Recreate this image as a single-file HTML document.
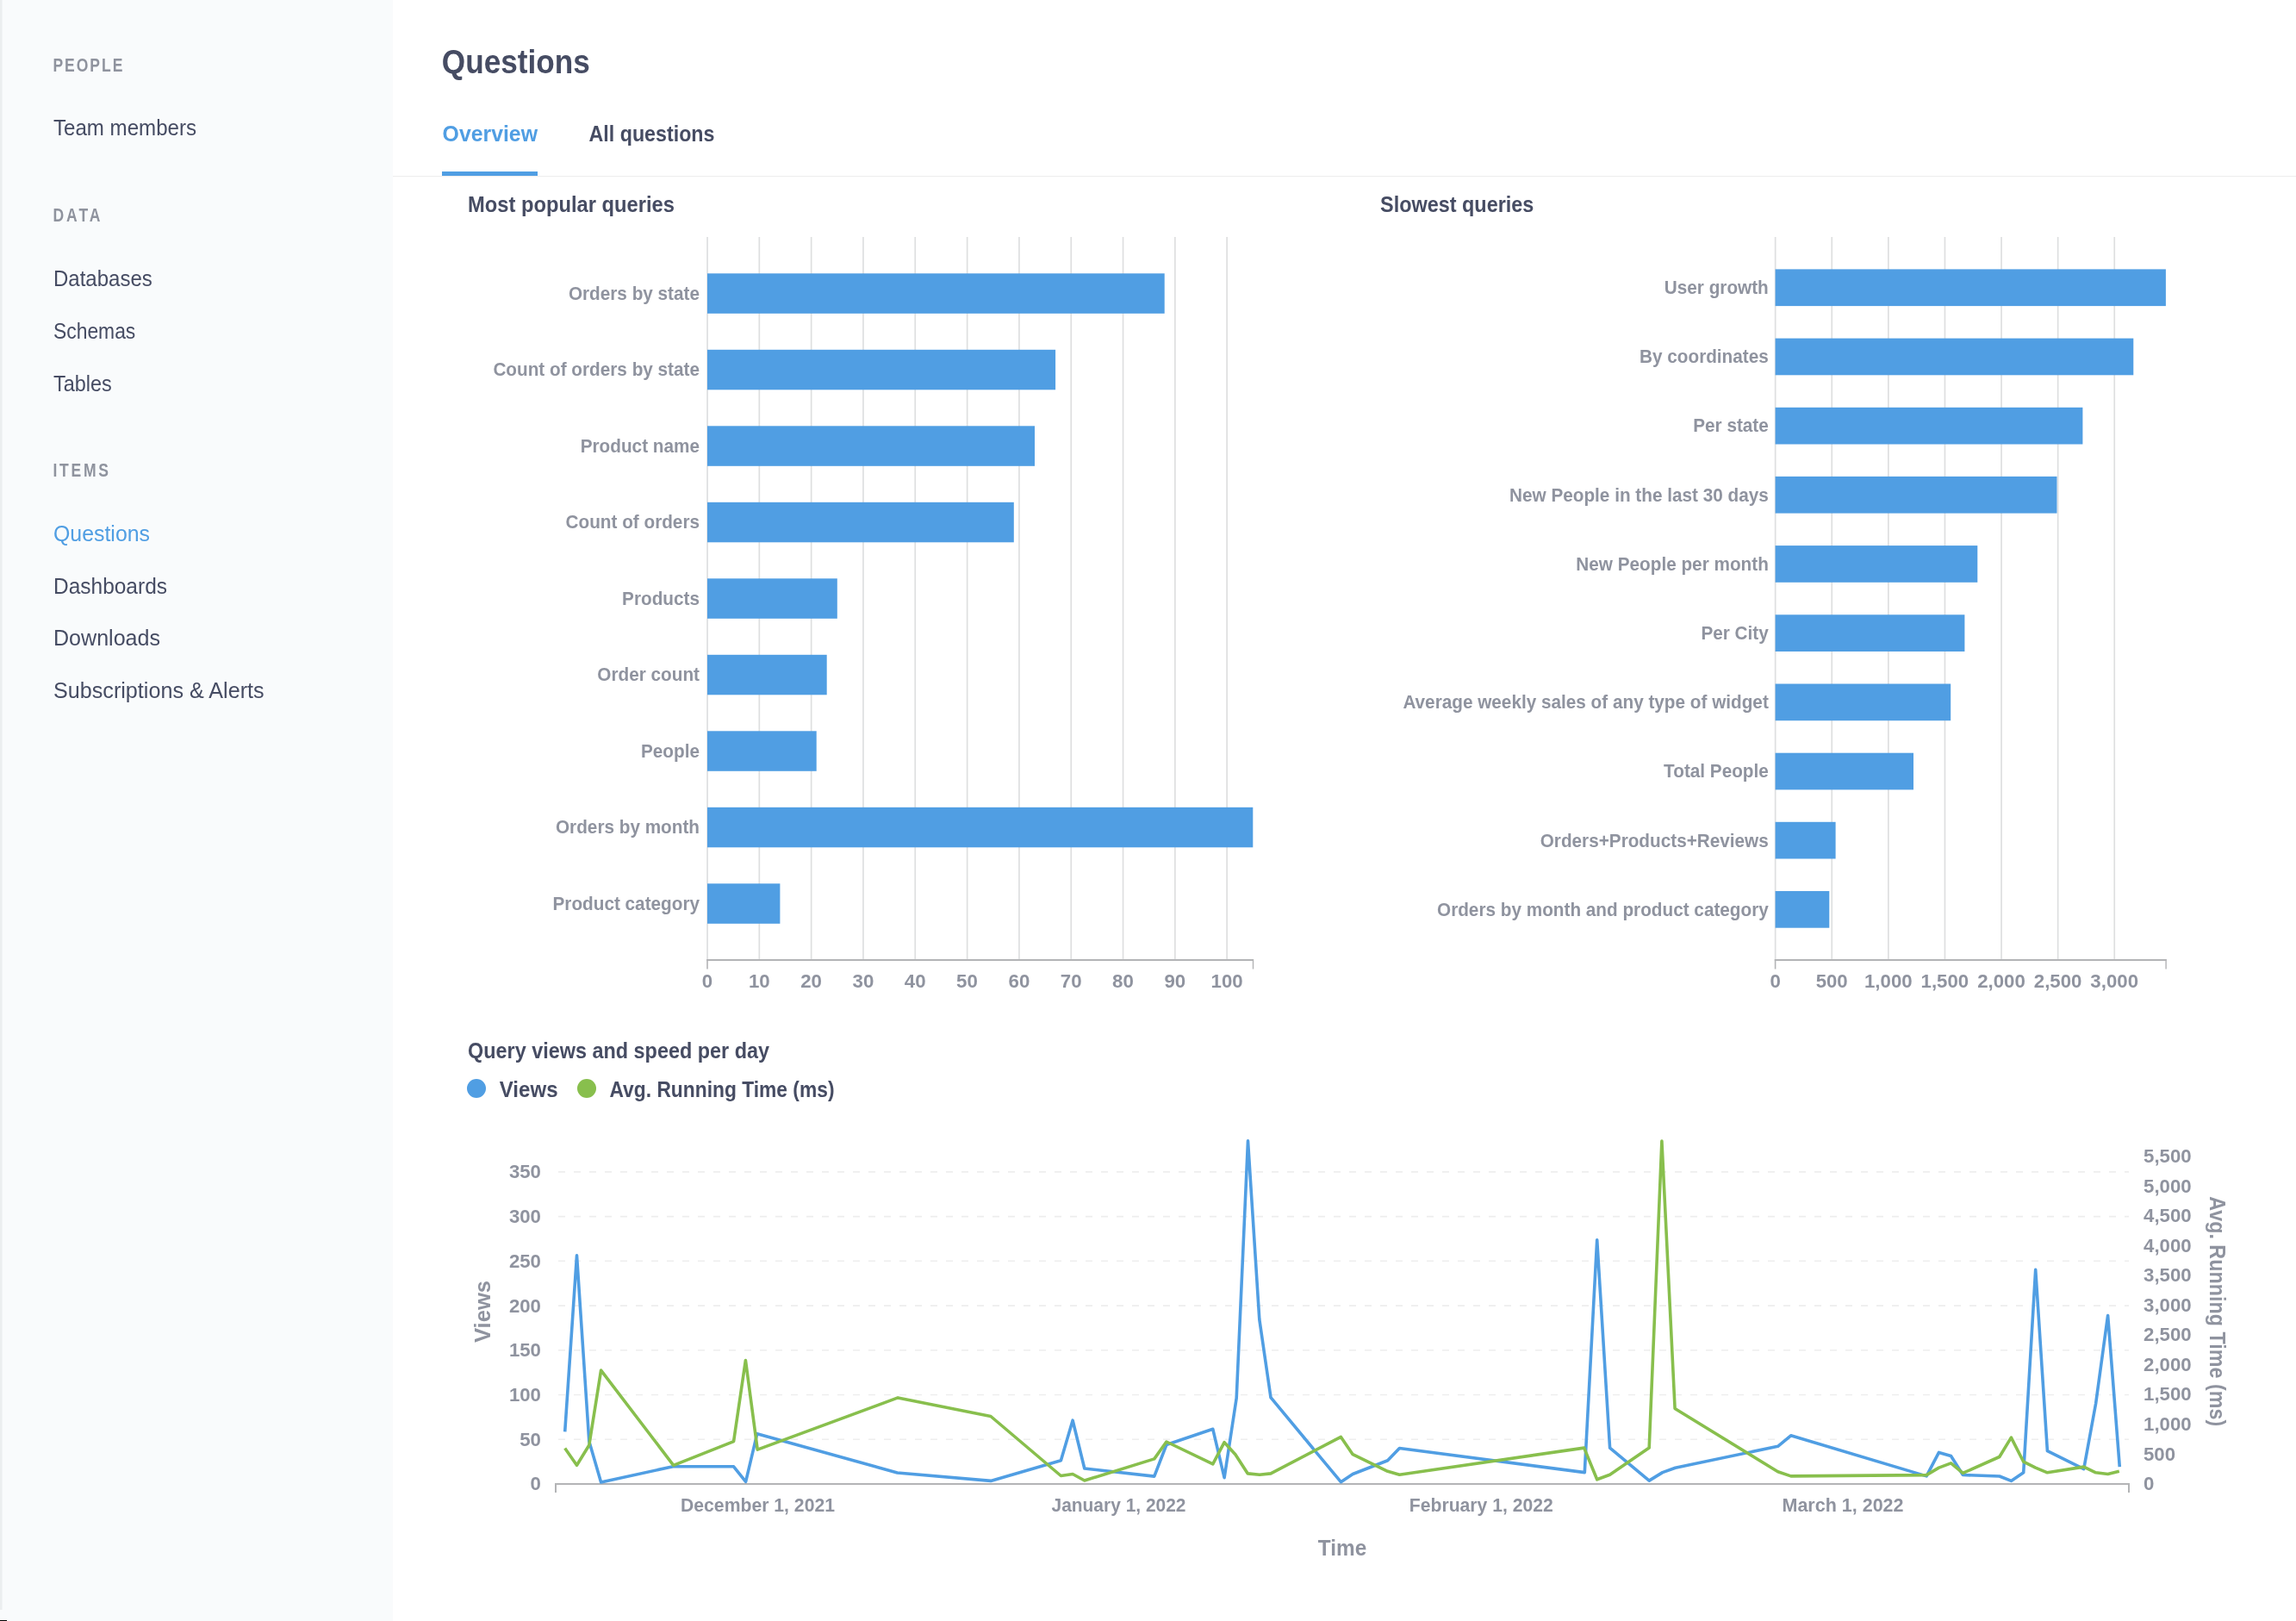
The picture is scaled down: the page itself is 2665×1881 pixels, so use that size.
<!DOCTYPE html>
<html><head><meta charset="utf-8"><title>Questions</title>
<style>
html,body{margin:0;padding:0;background:#fff;width:2665px;height:1881px;overflow:hidden;}
svg{display:block;font-family:"Liberation Sans",sans-serif;will-change:transform;}
</style></head>
<body>
<svg width="2665" height="1881" viewBox="0 0 2665 1881">
<rect x="0" y="0" width="2665" height="1881" fill="#FFFFFF"/>
<rect x="0" y="0" width="456" height="1881" fill="#F9FBFC"/>
<rect x="0" y="0" width="2.5" height="1868" fill="#EBEEEF"/>
<rect x="0" y="1880" width="8" height="1" fill="#000000"/>
<rect x="456" y="204" width="2209" height="1.2" fill="#EEEEEE"/>
<text transform="translate(61.4,83.0) scale(0.82,1)" font-size="21.4" font-weight="700" fill="#8F939E" letter-spacing="2.42">PEOPLE</text>
<text transform="translate(61.4,257.0) scale(0.82,1)" font-size="21.4" font-weight="700" fill="#8F939E" letter-spacing="3.65">DATA</text>
<text transform="translate(61.4,552.5) scale(0.82,1)" font-size="21.4" font-weight="700" fill="#8F939E" letter-spacing="3.34">ITEMS</text>
<text x="62.0" y="157.0" font-size="25.55" fill="#464C63" text-anchor="start" textLength="166.0" lengthAdjust="spacingAndGlyphs">Team members</text>
<text x="62.0" y="332.0" font-size="25.55" fill="#464C63" text-anchor="start" textLength="114.8" lengthAdjust="spacingAndGlyphs">Databases</text>
<text x="62.0" y="393.0" font-size="25.55" fill="#464C63" text-anchor="start" textLength="95.3" lengthAdjust="spacingAndGlyphs">Schemas</text>
<text x="62.0" y="454.0" font-size="25.55" fill="#464C63" text-anchor="start" textLength="67.7" lengthAdjust="spacingAndGlyphs">Tables</text>
<text x="62.0" y="627.6" font-size="25.55" fill="#509EE3" text-anchor="start" textLength="112.0" lengthAdjust="spacingAndGlyphs">Questions</text>
<text x="62.0" y="688.6" font-size="25.55" fill="#464C63" text-anchor="start" textLength="132.0" lengthAdjust="spacingAndGlyphs">Dashboards</text>
<text x="62.0" y="749.4" font-size="25.55" fill="#464C63" text-anchor="start" textLength="124.0" lengthAdjust="spacingAndGlyphs">Downloads</text>
<text x="62.0" y="810.0" font-size="25.55" fill="#464C63" text-anchor="start" textLength="244.6" lengthAdjust="spacingAndGlyphs">Subscriptions &amp; Alerts</text>
<text x="512.8" y="85.0" font-size="39.09" font-weight="700" fill="#464C63" text-anchor="start" textLength="172.0" lengthAdjust="spacingAndGlyphs">Questions</text>
<text x="513.6" y="163.8" font-size="25.55" font-weight="700" fill="#509EE3" text-anchor="start" textLength="110.4" lengthAdjust="spacingAndGlyphs">Overview</text>
<text x="683.5" y="163.8" font-size="25.55" font-weight="700" fill="#464C63" text-anchor="start" textLength="146.0" lengthAdjust="spacingAndGlyphs">All questions</text>
<rect x="513" y="199" width="111" height="5" fill="#509EE3"/>
<text x="543.0" y="246.0" font-size="25.13" font-weight="700" fill="#464C63" text-anchor="start" textLength="240.0" lengthAdjust="spacingAndGlyphs">Most popular queries</text>
<text x="1602.0" y="246.3" font-size="25.13" font-weight="700" fill="#464C63" text-anchor="start" textLength="178.4" lengthAdjust="spacingAndGlyphs">Slowest queries</text>
<rect x="820.2" y="275" width="1.7" height="838.0" fill="#DEDFE0"/>
<rect x="880.5" y="275" width="1.7" height="838.0" fill="#DEDFE0"/>
<rect x="940.8" y="275" width="1.7" height="838.0" fill="#DEDFE0"/>
<rect x="1001.1" y="275" width="1.7" height="838.0" fill="#DEDFE0"/>
<rect x="1061.4" y="275" width="1.7" height="838.0" fill="#DEDFE0"/>
<rect x="1121.8" y="275" width="1.7" height="838.0" fill="#DEDFE0"/>
<rect x="1182.1" y="275" width="1.7" height="838.0" fill="#DEDFE0"/>
<rect x="1242.4" y="275" width="1.7" height="838.0" fill="#DEDFE0"/>
<rect x="1302.7" y="275" width="1.7" height="838.0" fill="#DEDFE0"/>
<rect x="1363.0" y="275" width="1.7" height="838.0" fill="#DEDFE0"/>
<rect x="1423.3" y="275" width="1.7" height="838.0" fill="#DEDFE0"/>
<rect x="821.0" y="317.3" width="530.7" height="46.5" fill="#509EE3"/>
<text x="812.0" y="347.8" font-size="22.06" font-weight="700" fill="#8F939F" text-anchor="end" textLength="152.1" lengthAdjust="spacingAndGlyphs">Orders by state</text>
<rect x="821.0" y="405.8" width="404.1" height="46.5" fill="#509EE3"/>
<text x="812.0" y="436.3" font-size="22.06" font-weight="700" fill="#8F939F" text-anchor="end" textLength="239.6" lengthAdjust="spacingAndGlyphs">Count of orders by state</text>
<rect x="821.0" y="494.3" width="380.0" height="46.5" fill="#509EE3"/>
<text x="812.0" y="524.8" font-size="22.06" font-weight="700" fill="#8F939F" text-anchor="end" textLength="138.3" lengthAdjust="spacingAndGlyphs">Product name</text>
<rect x="821.0" y="582.8" width="355.8" height="46.5" fill="#509EE3"/>
<text x="812.0" y="613.3" font-size="22.06" font-weight="700" fill="#8F939F" text-anchor="end" textLength="155.5" lengthAdjust="spacingAndGlyphs">Count of orders</text>
<rect x="821.0" y="671.3" width="150.8" height="46.5" fill="#509EE3"/>
<text x="812.0" y="701.8" font-size="22.06" font-weight="700" fill="#8F939F" text-anchor="end" textLength="89.9" lengthAdjust="spacingAndGlyphs">Products</text>
<rect x="821.0" y="759.8" width="138.7" height="46.5" fill="#509EE3"/>
<text x="812.0" y="790.3" font-size="22.06" font-weight="700" fill="#8F939F" text-anchor="end" textLength="118.7" lengthAdjust="spacingAndGlyphs">Order count</text>
<rect x="821.0" y="848.3" width="126.7" height="46.5" fill="#509EE3"/>
<text x="812.0" y="878.8" font-size="22.06" font-weight="700" fill="#8F939F" text-anchor="end" textLength="68.0" lengthAdjust="spacingAndGlyphs">People</text>
<rect x="821.0" y="936.8" width="633.3" height="46.5" fill="#509EE3"/>
<text x="812.0" y="967.3" font-size="22.06" font-weight="700" fill="#8F939F" text-anchor="end" textLength="167.0" lengthAdjust="spacingAndGlyphs">Orders by month</text>
<rect x="821.0" y="1025.3" width="84.4" height="46.5" fill="#509EE3"/>
<text x="812.0" y="1055.8" font-size="22.06" font-weight="700" fill="#8F939F" text-anchor="end" textLength="170.5" lengthAdjust="spacingAndGlyphs">Product category</text>
<rect x="820.2" y="1113" width="634.8" height="2" fill="#B3B4B6"/>
<rect x="820.2" y="1113" width="1.6" height="11.5" fill="#B3B4B6"/>
<rect x="1453.8" y="1113" width="1.4" height="11.5" fill="#B3B4B6"/>
<text x="821.0" y="1145.6" font-size="21.40" font-weight="700" fill="#8F939F" text-anchor="middle" textLength="12.4" lengthAdjust="spacingAndGlyphs">0</text>
<text x="881.3" y="1145.6" font-size="21.40" font-weight="700" fill="#8F939F" text-anchor="middle" textLength="24.8" lengthAdjust="spacingAndGlyphs">10</text>
<text x="941.6" y="1145.6" font-size="21.40" font-weight="700" fill="#8F939F" text-anchor="middle" textLength="24.8" lengthAdjust="spacingAndGlyphs">20</text>
<text x="1001.9" y="1145.6" font-size="21.40" font-weight="700" fill="#8F939F" text-anchor="middle" textLength="24.8" lengthAdjust="spacingAndGlyphs">30</text>
<text x="1062.2" y="1145.6" font-size="21.40" font-weight="700" fill="#8F939F" text-anchor="middle" textLength="24.8" lengthAdjust="spacingAndGlyphs">40</text>
<text x="1122.5" y="1145.6" font-size="21.40" font-weight="700" fill="#8F939F" text-anchor="middle" textLength="24.8" lengthAdjust="spacingAndGlyphs">50</text>
<text x="1182.9" y="1145.6" font-size="21.40" font-weight="700" fill="#8F939F" text-anchor="middle" textLength="24.8" lengthAdjust="spacingAndGlyphs">60</text>
<text x="1243.2" y="1145.6" font-size="21.40" font-weight="700" fill="#8F939F" text-anchor="middle" textLength="24.8" lengthAdjust="spacingAndGlyphs">70</text>
<text x="1303.5" y="1145.6" font-size="21.40" font-weight="700" fill="#8F939F" text-anchor="middle" textLength="24.8" lengthAdjust="spacingAndGlyphs">80</text>
<text x="1363.8" y="1145.6" font-size="21.40" font-weight="700" fill="#8F939F" text-anchor="middle" textLength="24.8" lengthAdjust="spacingAndGlyphs">90</text>
<text x="1424.1" y="1145.6" font-size="21.40" font-weight="700" fill="#8F939F" text-anchor="middle" textLength="37.1" lengthAdjust="spacingAndGlyphs">100</text>
<rect x="2059.8" y="275" width="1.7" height="838.0" fill="#DEDFE0"/>
<rect x="2125.4" y="275" width="1.7" height="838.0" fill="#DEDFE0"/>
<rect x="2191.0" y="275" width="1.7" height="838.0" fill="#DEDFE0"/>
<rect x="2256.6" y="275" width="1.7" height="838.0" fill="#DEDFE0"/>
<rect x="2322.2" y="275" width="1.7" height="838.0" fill="#DEDFE0"/>
<rect x="2387.8" y="275" width="1.7" height="838.0" fill="#DEDFE0"/>
<rect x="2453.4" y="275" width="1.7" height="838.0" fill="#DEDFE0"/>
<rect x="2060.6" y="312.4" width="453.3" height="42.7" fill="#509EE3"/>
<text x="2052.8" y="341.0" font-size="22.06" font-weight="700" fill="#8F939F" text-anchor="end" textLength="121.0" lengthAdjust="spacingAndGlyphs">User growth</text>
<rect x="2060.6" y="392.6" width="415.7" height="42.7" fill="#509EE3"/>
<text x="2052.8" y="421.2" font-size="22.06" font-weight="700" fill="#8F939F" text-anchor="end" textLength="149.8" lengthAdjust="spacingAndGlyphs">By coordinates</text>
<rect x="2060.6" y="472.8" width="356.8" height="42.7" fill="#509EE3"/>
<text x="2052.8" y="501.4" font-size="22.06" font-weight="700" fill="#8F939F" text-anchor="end" textLength="87.6" lengthAdjust="spacingAndGlyphs">Per state</text>
<rect x="2060.6" y="552.9" width="326.9" height="42.7" fill="#509EE3"/>
<text x="2052.8" y="581.6" font-size="22.06" font-weight="700" fill="#8F939F" text-anchor="end" textLength="300.8" lengthAdjust="spacingAndGlyphs">New People in the last 30 days</text>
<rect x="2060.6" y="633.1" width="234.7" height="42.7" fill="#509EE3"/>
<text x="2052.8" y="661.8" font-size="22.06" font-weight="700" fill="#8F939F" text-anchor="end" textLength="223.5" lengthAdjust="spacingAndGlyphs">New People per month</text>
<rect x="2060.6" y="713.3" width="219.8" height="42.7" fill="#509EE3"/>
<text x="2052.8" y="741.9" font-size="22.06" font-weight="700" fill="#8F939F" text-anchor="end" textLength="78.4" lengthAdjust="spacingAndGlyphs">Per City</text>
<rect x="2060.6" y="793.5" width="203.6" height="42.7" fill="#509EE3"/>
<text x="2052.8" y="822.1" font-size="22.06" font-weight="700" fill="#8F939F" text-anchor="end" textLength="424.4" lengthAdjust="spacingAndGlyphs">Average weekly sales of any type of widget</text>
<rect x="2060.6" y="873.7" width="160.4" height="42.7" fill="#509EE3"/>
<text x="2052.8" y="902.3" font-size="22.06" font-weight="700" fill="#8F939F" text-anchor="end" textLength="121.7" lengthAdjust="spacingAndGlyphs">Total People</text>
<rect x="2060.6" y="953.8" width="70.0" height="42.7" fill="#509EE3"/>
<text x="2052.8" y="982.5" font-size="22.06" font-weight="700" fill="#8F939F" text-anchor="end" textLength="265.1" lengthAdjust="spacingAndGlyphs">Orders+Products+Reviews</text>
<rect x="2060.6" y="1034.0" width="62.7" height="42.7" fill="#509EE3"/>
<text x="2052.8" y="1062.7" font-size="22.06" font-weight="700" fill="#8F939F" text-anchor="end" textLength="384.8" lengthAdjust="spacingAndGlyphs">Orders by month and product category</text>
<rect x="2059.8" y="1113" width="454.8" height="2" fill="#B3B4B6"/>
<rect x="2059.8" y="1113" width="1.6" height="11.5" fill="#B3B4B6"/>
<rect x="2513.4" y="1113" width="1.4" height="11.5" fill="#B3B4B6"/>
<text x="2060.6" y="1145.8" font-size="21.40" font-weight="700" fill="#8F939F" text-anchor="middle" textLength="12.4" lengthAdjust="spacingAndGlyphs">0</text>
<text x="2126.2" y="1145.8" font-size="21.40" font-weight="700" fill="#8F939F" text-anchor="middle" textLength="37.1" lengthAdjust="spacingAndGlyphs">500</text>
<text x="2191.8" y="1145.8" font-size="21.40" font-weight="700" fill="#8F939F" text-anchor="middle" textLength="55.7" lengthAdjust="spacingAndGlyphs">1,000</text>
<text x="2257.4" y="1145.8" font-size="21.40" font-weight="700" fill="#8F939F" text-anchor="middle" textLength="55.7" lengthAdjust="spacingAndGlyphs">1,500</text>
<text x="2323.0" y="1145.8" font-size="21.40" font-weight="700" fill="#8F939F" text-anchor="middle" textLength="55.7" lengthAdjust="spacingAndGlyphs">2,000</text>
<text x="2388.6" y="1145.8" font-size="21.40" font-weight="700" fill="#8F939F" text-anchor="middle" textLength="55.7" lengthAdjust="spacingAndGlyphs">2,500</text>
<text x="2454.2" y="1145.8" font-size="21.40" font-weight="700" fill="#8F939F" text-anchor="middle" textLength="55.7" lengthAdjust="spacingAndGlyphs">3,000</text>
<text x="543.0" y="1228.0" font-size="25.13" font-weight="700" fill="#464C63" text-anchor="start" textLength="350.0" lengthAdjust="spacingAndGlyphs">Query views and speed per day</text>
<circle cx="553" cy="1263" r="11" fill="#509EE3"/>
<text x="579.7" y="1273.4" font-size="25.13" font-weight="700" fill="#464C63" text-anchor="start" textLength="67.9" lengthAdjust="spacingAndGlyphs">Views</text>
<circle cx="681" cy="1263" r="11" fill="#88BF4D"/>
<text x="707.5" y="1273.4" font-size="25.13" font-weight="700" fill="#464C63" text-anchor="start" textLength="261.0" lengthAdjust="spacingAndGlyphs">Avg. Running Time (ms)</text>
<line x1="648" y1="1670.3" x2="2471" y2="1670.3" stroke="#EEEEEE" stroke-width="1.6" stroke-dasharray="8 10"/>
<line x1="648" y1="1618.5" x2="2471" y2="1618.5" stroke="#EEEEEE" stroke-width="1.6" stroke-dasharray="8 10"/>
<line x1="648" y1="1566.8" x2="2471" y2="1566.8" stroke="#EEEEEE" stroke-width="1.6" stroke-dasharray="8 10"/>
<line x1="648" y1="1515.1" x2="2471" y2="1515.1" stroke="#EEEEEE" stroke-width="1.6" stroke-dasharray="8 10"/>
<line x1="648" y1="1463.3" x2="2471" y2="1463.3" stroke="#EEEEEE" stroke-width="1.6" stroke-dasharray="8 10"/>
<line x1="648" y1="1411.6" x2="2471" y2="1411.6" stroke="#EEEEEE" stroke-width="1.6" stroke-dasharray="8 10"/>
<line x1="648" y1="1359.9" x2="2471" y2="1359.9" stroke="#EEEEEE" stroke-width="1.6" stroke-dasharray="8 10"/>
<text x="628.0" y="1729.4" font-size="21.40" font-weight="700" fill="#8F939F" text-anchor="end" textLength="12.4" lengthAdjust="spacingAndGlyphs">0</text>
<text x="628.0" y="1677.7" font-size="21.40" font-weight="700" fill="#8F939F" text-anchor="end" textLength="24.8" lengthAdjust="spacingAndGlyphs">50</text>
<text x="628.0" y="1625.9" font-size="21.40" font-weight="700" fill="#8F939F" text-anchor="end" textLength="37.1" lengthAdjust="spacingAndGlyphs">100</text>
<text x="628.0" y="1574.2" font-size="21.40" font-weight="700" fill="#8F939F" text-anchor="end" textLength="37.1" lengthAdjust="spacingAndGlyphs">150</text>
<text x="628.0" y="1522.5" font-size="21.40" font-weight="700" fill="#8F939F" text-anchor="end" textLength="37.1" lengthAdjust="spacingAndGlyphs">200</text>
<text x="628.0" y="1470.8" font-size="21.40" font-weight="700" fill="#8F939F" text-anchor="end" textLength="37.1" lengthAdjust="spacingAndGlyphs">250</text>
<text x="628.0" y="1419.0" font-size="21.40" font-weight="700" fill="#8F939F" text-anchor="end" textLength="37.1" lengthAdjust="spacingAndGlyphs">300</text>
<text x="628.0" y="1367.3" font-size="21.40" font-weight="700" fill="#8F939F" text-anchor="end" textLength="37.1" lengthAdjust="spacingAndGlyphs">350</text>
<text x="2488.0" y="1729.0" font-size="21.40" font-weight="700" fill="#8F939F" text-anchor="start" textLength="12.4" lengthAdjust="spacingAndGlyphs">0</text>
<text x="2488.0" y="1694.5" font-size="21.40" font-weight="700" fill="#8F939F" text-anchor="start" textLength="37.1" lengthAdjust="spacingAndGlyphs">500</text>
<text x="2488.0" y="1659.9" font-size="21.40" font-weight="700" fill="#8F939F" text-anchor="start" textLength="55.7" lengthAdjust="spacingAndGlyphs">1,000</text>
<text x="2488.0" y="1625.4" font-size="21.40" font-weight="700" fill="#8F939F" text-anchor="start" textLength="55.7" lengthAdjust="spacingAndGlyphs">1,500</text>
<text x="2488.0" y="1590.9" font-size="21.40" font-weight="700" fill="#8F939F" text-anchor="start" textLength="55.7" lengthAdjust="spacingAndGlyphs">2,000</text>
<text x="2488.0" y="1556.3" font-size="21.40" font-weight="700" fill="#8F939F" text-anchor="start" textLength="55.7" lengthAdjust="spacingAndGlyphs">2,500</text>
<text x="2488.0" y="1521.8" font-size="21.40" font-weight="700" fill="#8F939F" text-anchor="start" textLength="55.7" lengthAdjust="spacingAndGlyphs">3,000</text>
<text x="2488.0" y="1487.3" font-size="21.40" font-weight="700" fill="#8F939F" text-anchor="start" textLength="55.7" lengthAdjust="spacingAndGlyphs">3,500</text>
<text x="2488.0" y="1452.8" font-size="21.40" font-weight="700" fill="#8F939F" text-anchor="start" textLength="55.7" lengthAdjust="spacingAndGlyphs">4,000</text>
<text x="2488.0" y="1418.2" font-size="21.40" font-weight="700" fill="#8F939F" text-anchor="start" textLength="55.7" lengthAdjust="spacingAndGlyphs">4,500</text>
<text x="2488.0" y="1383.7" font-size="21.40" font-weight="700" fill="#8F939F" text-anchor="start" textLength="55.7" lengthAdjust="spacingAndGlyphs">5,000</text>
<text x="2488.0" y="1349.2" font-size="21.40" font-weight="700" fill="#8F939F" text-anchor="start" textLength="55.7" lengthAdjust="spacingAndGlyphs">5,500</text>
<rect x="644" y="1721" width="1828" height="2" fill="#B3B4B6"/>
<rect x="644" y="1721" width="2" height="11" fill="#B3B4B6"/>
<rect x="2470" y="1721" width="2" height="11" fill="#B3B4B6"/>
<text x="0.0" y="0.0" font-size="25.13" font-weight="700" fill="#8F939F" text-anchor="middle" textLength="72.0" lengthAdjust="spacingAndGlyphs" transform="translate(568.5,1522) rotate(-90)">Views</text>
<text x="0.0" y="0.0" font-size="25.13" font-weight="700" fill="#8F939F" text-anchor="middle" textLength="267.0" lengthAdjust="spacingAndGlyphs" transform="translate(2564.5,1521.7) rotate(90)">Avg. Running Time (ms)</text>
<text x="879.5" y="1754.0" font-size="22.34" font-weight="700" fill="#8F939F" text-anchor="middle" textLength="179.0" lengthAdjust="spacingAndGlyphs">December 1, 2021</text>
<text x="1298.5" y="1754.0" font-size="22.34" font-weight="700" fill="#8F939F" text-anchor="middle" textLength="156.0" lengthAdjust="spacingAndGlyphs">January 1, 2022</text>
<text x="1719.3" y="1754.0" font-size="22.34" font-weight="700" fill="#8F939F" text-anchor="middle" textLength="167.0" lengthAdjust="spacingAndGlyphs">February 1, 2022</text>
<text x="2139.0" y="1754.0" font-size="22.34" font-weight="700" fill="#8F939F" text-anchor="middle" textLength="141.0" lengthAdjust="spacingAndGlyphs">March 1, 2022</text>
<text x="1558.0" y="1804.5" font-size="25.13" font-weight="700" fill="#8F939F" text-anchor="middle" textLength="56.4" lengthAdjust="spacingAndGlyphs">Time</text>
<polyline points="655.7,1661.4 669.5,1456.9 683.8,1672.5 697.6,1719.9 781.1,1701.8 851.6,1701.8 865.6,1719.3 878.8,1663.7 1041.5,1709.0 1150.0,1718.4 1231.4,1694.8 1245.1,1648.2 1258.8,1704.0 1339.8,1713.1 1353.9,1676.5 1407.8,1658.3 1421.1,1714.7 1435.2,1622.3 1448.5,1323.8 1461.8,1531.0 1475.0,1621.7 1556.4,1719.7 1570.2,1710.5 1610.7,1694.8 1624.4,1680.5 1839.3,1708.6 1853.7,1438.8 1868.6,1680.1 1914.2,1718.1 1929.7,1708.6 1944.6,1703.2 2063.6,1678.3 2078.7,1665.8 2236.1,1712.9 2250.5,1685.4 2264.5,1689.5 2278.4,1711.5 2320.8,1713.0 2334.4,1718.4 2348.7,1708.8 2362.7,1473.4 2376.4,1683.6 2418.7,1704.6 2432.6,1628.7 2446.6,1526.5 2460.3,1702.1" fill="none" stroke="#509EE3" stroke-width="3.6" stroke-linejoin="round"/>
<polyline points="655.7,1680.5 669.5,1700.3 683.8,1677.0 697.6,1590.1 781.7,1700.3 851.6,1672.6 865.4,1578.6 879.2,1682.1 1042.2,1621.9 1150.0,1643.5 1231.4,1712.5 1245.1,1710.5 1258.8,1718.0 1339.8,1692.9 1353.9,1673.0 1407.8,1698.8 1421.1,1673.7 1433.9,1687.7 1448.3,1709.9 1462.0,1711.2 1475.0,1709.9 1556.4,1667.4 1570.2,1687.7 1610.7,1707.3 1624.4,1711.2 1838.7,1680.1 1853.7,1716.8 1868.6,1711.3 1914.2,1680.1 1928.9,1324.0 1944.1,1634.5 2063.6,1707.7 2078.7,1712.9 2236.1,1711.6 2250.5,1703.1 2264.5,1697.9 2278.4,1709.4 2320.8,1690.5 2334.4,1668.1 2348.7,1696.2 2362.7,1703.1 2376.4,1708.8 2418.7,1702.1 2432.6,1708.8 2446.6,1710.5 2459.8,1707.3" fill="none" stroke="#88BF4D" stroke-width="3.6" stroke-linejoin="round"/>
</svg>
</body></html>
